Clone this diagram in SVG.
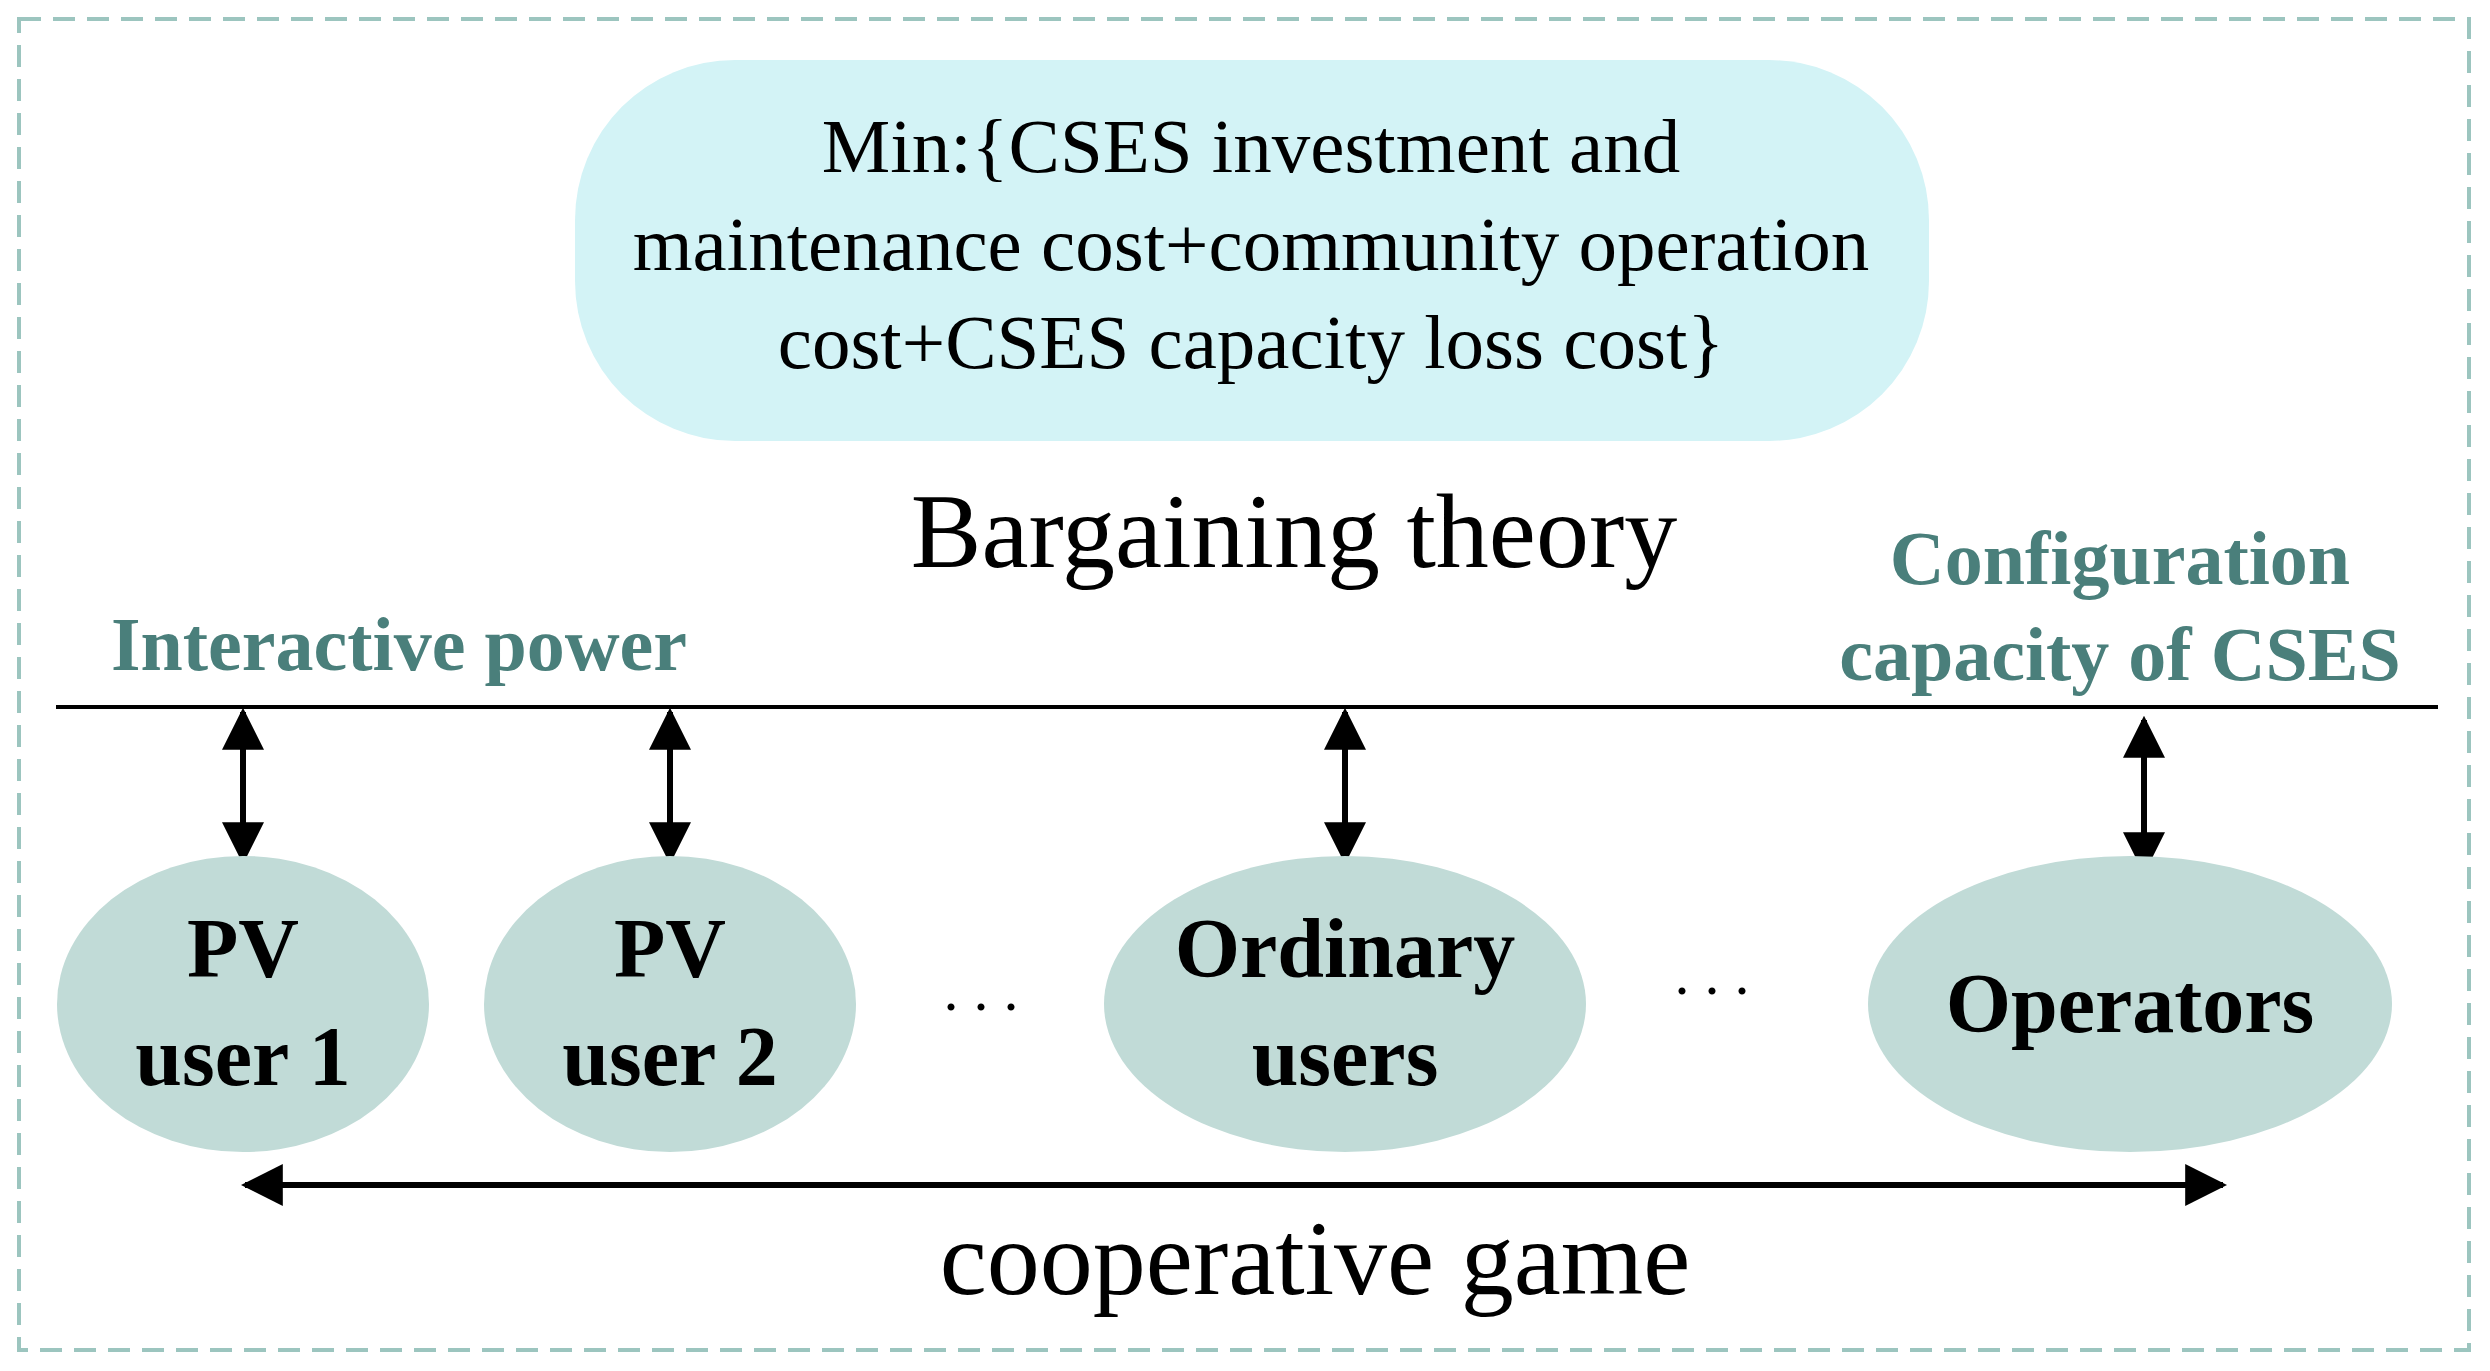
<svg xmlns="http://www.w3.org/2000/svg" width="2490" height="1371" viewBox="0 0 2490 1371">
<defs>
<marker id="ah" viewBox="0 0 10 10" refX="9" refY="5" markerWidth="7" markerHeight="7" orient="auto-start-reverse" markerUnits="strokeWidth"><path d="M0,0 L10,5 L0,10 z" fill="#000"/></marker>
<style>
.t{font-family:"Liberation Serif",serif;fill:#000}
.g{font-family:"Liberation Serif",serif;font-weight:bold;fill:#4a7f7b;font-size:76px}
.b{font-family:"Liberation Serif",serif;font-weight:bold;font-size:84px;fill:#000}
.e{fill:#c1dbd7}
.a{stroke:#000;stroke-width:6;fill:none;marker-start:url(#ah);marker-end:url(#ah)}
</style>
</defs>
<rect width="2490" height="1371" fill="#fff"/>
<rect x="19" y="19" width="2450" height="1331" fill="none" stroke="#9cc5bf" stroke-width="4" stroke-dasharray="22,12"/>
<g id="objective">
<rect x="575" y="60" width="1354" height="381" rx="160" fill="#d3f3f6"/>
<text class="t" font-size="77" text-anchor="middle"><tspan x="1251" y="172">Min:{CSES investment and</tspan><tspan x="1251" y="270">maintenance cost+community operation</tspan><tspan x="1251" y="368">cost+CSES capacity loss cost}</tspan></text>
</g>
<text class="t" font-size="106" x="1294" y="567" text-anchor="middle">Bargaining theory</text>
<text class="g" text-anchor="middle"><tspan x="2120" y="584">Configuration</tspan><tspan x="2120" y="680">capacity of CSES</tspan></text>
<text class="g" x="399" y="670" text-anchor="middle">Interactive power</text>
<g id="connectors">
<line x1="56" y1="707" x2="2438" y2="707" stroke="#000" stroke-width="4"/>
<line class="a" x1="243" y1="712" x2="243" y2="860"/>
<line class="a" x1="670" y1="712" x2="670" y2="860"/>
<line class="a" x1="1345" y1="712" x2="1345" y2="860"/>
<line class="a" x1="2144" y1="720" x2="2144" y2="870"/>
<line class="a" x1="245" y1="1185" x2="2223" y2="1185"/>
</g>
<g id="pv1"><ellipse class="e" cx="243" cy="1004" rx="186" ry="148"/><text class="b" text-anchor="middle"><tspan x="243" y="977">PV</tspan><tspan x="243" y="1085">user 1</tspan></text></g>
<g id="pv2"><ellipse class="e" cx="670" cy="1004" rx="186" ry="148"/><text class="b" text-anchor="middle"><tspan x="670" y="977">PV</tspan><tspan x="670" y="1085">user 2</tspan></text></g>
<g id="ordinary"><ellipse class="e" cx="1345" cy="1004" rx="241" ry="148"/><text class="b" text-anchor="middle"><tspan x="1345" y="977">Ordinary</tspan><tspan x="1345" y="1085">users</tspan></text></g>
<g id="operators"><ellipse class="e" cx="2130" cy="1004" rx="262" ry="148"/><text class="b" x="2130" y="1032" text-anchor="middle">Operators</text></g>
<text class="t" font-size="60" x="981" y="1010" text-anchor="middle">. . .</text>
<text class="t" font-size="60" x="1712" y="994" text-anchor="middle">. . .</text>
<text class="t" font-size="106" x="1315" y="1294" text-anchor="middle">cooperative game</text>
</svg>
